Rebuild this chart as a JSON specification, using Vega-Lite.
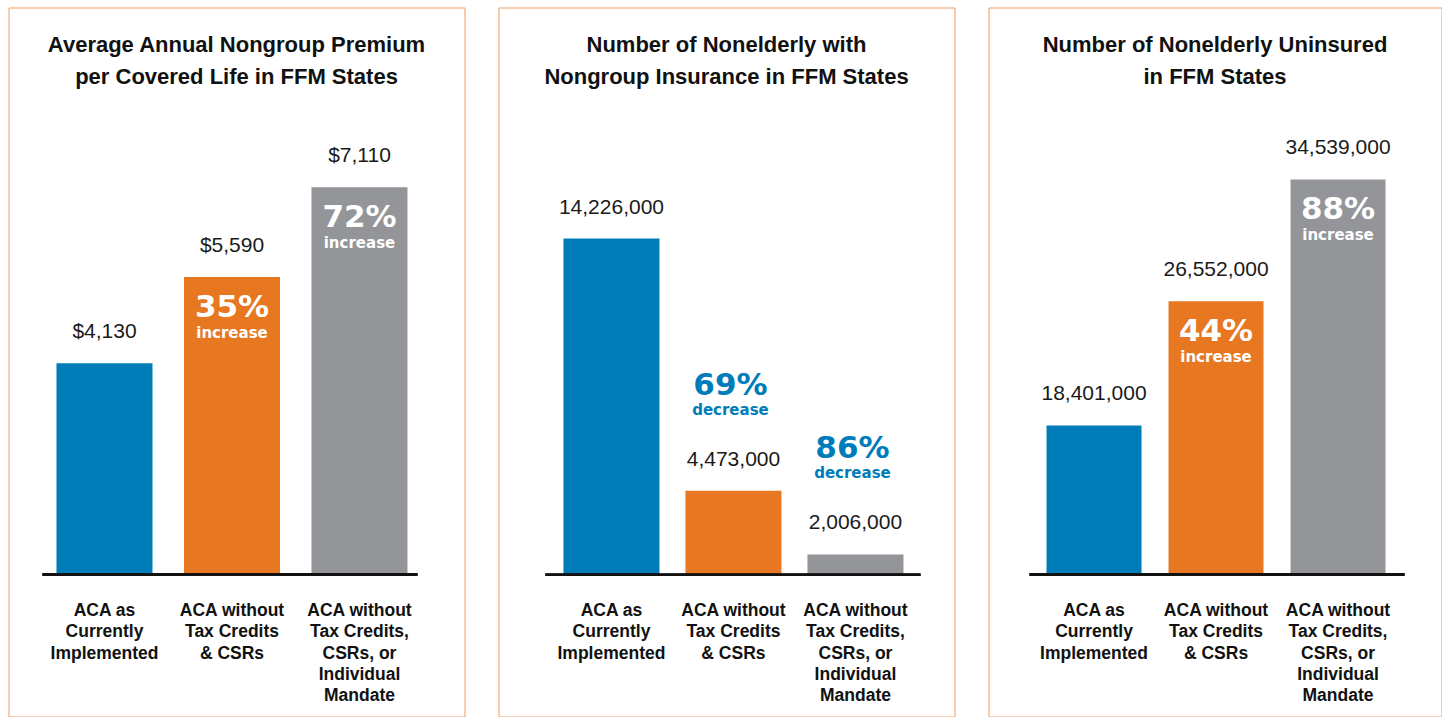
{
  "$schema": "https://vega.github.io/schema/vega-lite/v6.json",
  "background": "white",
  "padding": {"left": 7.5, "top": 6.5, "right": 0, "bottom": 0},
  "spacing": 34,
  "bounds": "flush",
  "datasets": {
    "premium": [
      {"scenario": "ACA as Currently Implemented", "value": 4130, "pct": null, "change": null},
      {"scenario": "ACA without Tax Credits & CSRs", "value": 5590, "pct": 0.35, "change": "increase"},
      {"scenario": "ACA without Tax Credits, CSRs, or Individual Mandate", "value": 7110, "pct": 0.72, "change": "increase"}
    ],
    "nongroup": [
      {"scenario": "ACA as Currently Implemented", "value": 14226000, "pct": null, "change": null},
      {"scenario": "ACA without Tax Credits & CSRs", "value": 4473000, "pct": 0.69, "change": "decrease"},
      {"scenario": "ACA without Tax Credits, CSRs, or Individual Mandate", "value": 2006000, "pct": 0.86, "change": "decrease"}
    ],
    "uninsured": [
      {"scenario": "ACA as Currently Implemented", "value": 18401000, "pct": null, "change": null},
      {"scenario": "ACA without Tax Credits & CSRs", "value": 26552000, "pct": 0.44, "change": "increase"},
      {"scenario": "ACA without Tax Credits, CSRs, or Individual Mandate", "value": 34539000, "pct": 0.88, "change": "increase"}
    ]
  },
  "config": {
    "font": "Liberation Sans",
    "view": {"stroke": "#F09C5E", "strokeWidth": 1, "fill": "white"},
    "title": {"font": "Liberation Sans", "fontWeight": "bold", "fontSize": 22, "color": "#111111", "lineHeight": 32, "anchor": "middle", "offset": -81},
    "axisX": {
      "orient": "bottom", "offset": -142, "domain": false, "ticks": false, "tickSize": 0, "grid": false,
      "labelPadding": 27, "labelAngle": 0, "labelBaseline": "top", "labelAlign": "center",
      "labelFont": "Liberation Sans", "labelFontWeight": "bold", "labelFontSize": 17.5, "labelColor": "#111111",
      "labelLineHeight": 21.3, "labelLimit": 0, "title": null,
      "labelExpr": "{'ACA as Currently Implemented': ['ACA as', 'Currently', 'Implemented'], 'ACA without Tax Credits & CSRs': ['ACA without', 'Tax Credits', '& CSRs'], 'ACA without Tax Credits, CSRs, or Individual Mandate': ['ACA without', 'Tax Credits,', 'CSRs, or', 'Individual', 'Mandate']}[datum.label]"
    }
  },
  "hconcat": [
    {
      "width": 456, "height": 709,
      "title": {"text": ["Average Annual Nongroup Premium", "per Covered Life in FFM States"]},
      "data": {"name": "premium"},
      "encoding": {
        "x": {"field": "scenario", "type": "nominal", "sort": null,
              "scale": {"paddingInner": 0.247, "paddingOuter": 0.4118, "align": 0.457}},
        "y": {"field": "value", "type": "quantitative", "axis": null,
              "scale": {"domain": [-1852, 10153], "zero": false, "nice": false}}
      },
      "layer": [
        {"mark": {"type": "bar"},
         "encoding": {
           "y2": {"datum": 552},
           "color": {"field": "scenario", "type": "nominal", "legend": null, "sort": null,
                     "scale": {"domain": ["ACA as Currently Implemented", "ACA without Tax Credits & CSRs", "ACA without Tax Credits, CSRs, or Individual Mandate"], "range": ["#007CB9", "#E87722", "#939598"]}}
         }},
        {"mark": {"type": "rule", "color": "#111111", "strokeWidth": 2.6},
         "encoding": {
           "x": {"datum": "ACA as Currently Implemented", "type": "nominal", "bandPosition": -0.146},
           "x2": {"datum": "ACA without Tax Credits, CSRs, or Individual Mandate", "bandPosition": 1.104},
           "y": {"datum": 552, "type": "quantitative"}
         }},
        {"mark": {"type": "text", "baseline": "alphabetic", "dy": -25, "fontSize": 21, "color": "#1a1a1a", "font": "Liberation Sans"},
         "encoding": {"text": {"field": "value", "type": "quantitative", "format": "$,.0f"}}},
        {"transform": [{"filter": "datum.pct != null"}],
         "mark": {"type": "text", "baseline": "alphabetic", "dy": 40, "fontSize": 31, "font": "DejaVu Sans", "fontWeight": "bold", "color": "white"},
         "encoding": {"text": {"field": "pct", "type": "quantitative", "format": ".0%"}}},
        {"transform": [{"filter": "datum.pct != null"}],
         "mark": {"type": "text", "baseline": "alphabetic", "dy": 61, "fontSize": 15, "font": "DejaVu Sans", "fontWeight": "bold", "color": "white"},
         "encoding": {"text": {"field": "change", "type": "nominal"}}}
      ]
    },
    {
      "width": 456, "height": 709,
      "title": {"text": ["Number of  Nonelderly with", "Nongroup Insurance in FFM States"]},
      "data": {"name": "nongroup"},
      "encoding": {
        "x": {"field": "scenario", "type": "nominal", "sort": null,
              "scale": {"paddingInner": 0.213, "paddingOuter": 0.4754, "align": 0.56}},
        "y": {"field": "value", "type": "quantitative", "axis": null,
              "scale": {"domain": [-4264000, 23166000], "zero": false, "nice": false}}
      },
      "layer": [
        {"mark": {"type": "bar"},
         "encoding": {
           "y2": {"datum": 1220000},
           "color": {"field": "scenario", "type": "nominal", "legend": null, "sort": null,
                     "scale": {"domain": ["ACA as Currently Implemented", "ACA without Tax Credits & CSRs", "ACA without Tax Credits, CSRs, or Individual Mandate"], "range": ["#007CB9", "#E87722", "#939598"]}}
         }},
        {"mark": {"type": "rule", "color": "#111111", "strokeWidth": 2.6},
         "encoding": {
           "x": {"datum": "ACA as Currently Implemented", "type": "nominal", "bandPosition": -0.1875},
           "x2": {"datum": "ACA without Tax Credits, CSRs, or Individual Mandate", "bandPosition": 1.177},
           "y": {"datum": 1220000, "type": "quantitative"}
         }},
        {"mark": {"type": "text", "baseline": "alphabetic", "dy": -25, "fontSize": 21, "color": "#1a1a1a", "font": "Liberation Sans"},
         "encoding": {"text": {"field": "value", "type": "quantitative", "format": ",.0f"}}},
        {"transform": [{"filter": "datum.pct != null"}],
         "mark": {"type": "text", "baseline": "alphabetic", "dy": -96, "dx": -3, "fontSize": 31, "font": "DejaVu Sans", "fontWeight": "bold", "color": "#007CB9"},
         "encoding": {"text": {"field": "pct", "type": "quantitative", "format": ".0%"}}},
        {"transform": [{"filter": "datum.pct != null"}],
         "mark": {"type": "text", "baseline": "alphabetic", "dy": -76, "dx": -3, "fontSize": 15, "font": "DejaVu Sans", "fontWeight": "bold", "color": "#007CB9"},
         "encoding": {"text": {"field": "change", "type": "nominal"}}}
      ]
    },
    {
      "width": 453, "height": 709,
      "title": {"text": ["Number of Nonelderly Uninsured", "in FFM States"]},
      "data": {"name": "uninsured"},
      "encoding": {
        "x": {"field": "scenario", "type": "nominal", "sort": null,
              "scale": {"paddingInner": 0.2213, "paddingOuter": 0.4672, "align": 0.509}},
        "y": {"field": "value", "type": "quantitative", "axis": null,
              "scale": {"domain": [-689000, 45822000], "zero": false, "nice": false}}
      },
      "layer": [
        {"mark": {"type": "bar"},
         "encoding": {
           "y2": {"datum": 8627000},
           "color": {"field": "scenario", "type": "nominal", "legend": null, "sort": null,
                     "scale": {"domain": ["ACA as Currently Implemented", "ACA without Tax Credits & CSRs", "ACA without Tax Credits, CSRs, or Individual Mandate"], "range": ["#007CB9", "#E87722", "#939598"]}}
         }},
        {"mark": {"type": "rule", "color": "#111111", "strokeWidth": 2.6},
         "encoding": {
           "x": {"datum": "ACA as Currently Implemented", "type": "nominal", "bandPosition": -0.179},
           "x2": {"datum": "ACA without Tax Credits, CSRs, or Individual Mandate", "bandPosition": 1.2},
           "y": {"datum": 8627000, "type": "quantitative"}
         }},
        {"mark": {"type": "text", "baseline": "alphabetic", "dy": -25, "fontSize": 21, "color": "#1a1a1a", "font": "Liberation Sans"},
         "encoding": {"text": {"field": "value", "type": "quantitative", "format": ",.0f"}}},
        {"transform": [{"filter": "datum.pct != null"}],
         "mark": {"type": "text", "baseline": "alphabetic", "dy": 40, "fontSize": 31, "font": "DejaVu Sans", "fontWeight": "bold", "color": "white"},
         "encoding": {"text": {"field": "pct", "type": "quantitative", "format": ".0%"}}},
        {"transform": [{"filter": "datum.pct != null"}],
         "mark": {"type": "text", "baseline": "alphabetic", "dy": 61, "fontSize": 15, "font": "DejaVu Sans", "fontWeight": "bold", "color": "white"},
         "encoding": {"text": {"field": "change", "type": "nominal"}}}
      ]
    }
  ]
}
